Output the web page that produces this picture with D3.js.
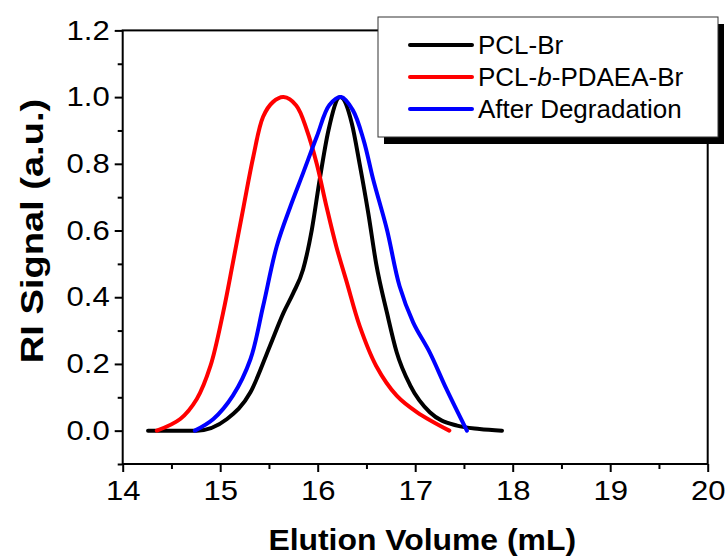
<!DOCTYPE html>
<html>
<head>
<meta charset="utf-8">
<script src="https://cdn.jsdelivr.net/npm/d3@7"></script>
<style>
  body { margin: 0; background: #fff; }
  svg { display: block; font-family: "Liberation Sans", Arial, sans-serif; }
</style>
</head>
<body>
<script>
// GPC traces (elution volume mL, normalised RI signal)
var pclX   = [14.26, 14.76, 15.07, 15.31, 15.51, 15.65, 15.75, 15.85, 15.94, 16.02, 16.11, 16.23, 16.35, 16.43, 16.52, 16.60, 16.71, 16.81, 16.95, 17.15, 17.43, 17.66, 17.89];
var pclY   = [0.0, 0.0, 0.035, 0.115, 0.254, 0.354, 0.413, 0.483, 0.603, 0.752, 0.90, 1.0, 0.921, 0.80, 0.65, 0.50, 0.354, 0.235, 0.135, 0.055, 0.015, 0.005, 0.0];

var blockX = [14.35, 14.59, 14.76, 14.90, 15.03, 15.13, 15.24, 15.34, 15.44, 15.54, 15.65, 15.78, 15.89, 15.99, 16.09, 16.19, 16.30, 16.43, 16.60, 16.81, 17.02, 17.35];
var blockY = [0.0, 0.035, 0.095, 0.194, 0.354, 0.503, 0.672, 0.822, 0.941, 0.985, 1.0, 0.975, 0.90, 0.80, 0.672, 0.553, 0.443, 0.314, 0.194, 0.105, 0.055, 0.0];

var degX   = [14.74, 14.93, 15.13, 15.31, 15.44, 15.58, 15.72, 15.85, 15.99, 16.12, 16.24, 16.36, 16.47, 16.57, 16.71, 16.84, 16.98, 17.15, 17.32, 17.53];
var degY   = [0.0, 0.035, 0.105, 0.214, 0.373, 0.553, 0.672, 0.772, 0.881, 0.976, 1.0, 0.961, 0.872, 0.752, 0.603, 0.433, 0.324, 0.234, 0.125, 0.0];

var seriesNames  = ["PCL-Br", "PCL-b-PDAEA-Br", "After Degradation"];
var seriesColors = ["#000000", "#ff0000", "#0000ff"];

var xTicks = [14, 15, 16, 17, 18, 19, 20];
var yTicks = [0.0, 0.2, 0.4, 0.6, 0.8, 1.0, 1.2];

var width = 727, height = 556;
// plot box (note: "top" is reserved on window, so use mTop etc.)
var mLeft = 122.7, mRight = 707.7, mTop = 30.4, mBottom = 464;

var svg = d3.select("body").append("svg")
    .attr("width", width)
    .attr("height", height);

var x = d3.scaleLinear().domain([14, 20]).range([mLeft, mRight]);
var y = d3.scaleLinear().domain([-0.1, 1.2]).range([mBottom, mTop]);

// minor ticks in between the majors
var xMinor = d3.range(14.5, 20, 1);
var yMinor = d3.range(-0.1, 1.2, 0.2).map(function (d) { return +d.toFixed(1); });

function minorAxis(g, axis) {
  g.call(axis);
  g.select(".domain").remove();
  g.selectAll("text").remove();
  g.selectAll("line").attr("stroke-width", 2);
}

svg.append("g")
    .attr("transform", "translate(0," + mBottom + ")")
    .call(minorAxis, d3.axisBottom(x).tickValues(xMinor).tickSizeInner(5).tickSizeOuter(0));

svg.append("g")
    .attr("transform", "translate(" + mLeft + ",0)")
    .call(minorAxis, d3.axisLeft(y).tickValues(yMinor).tickSizeInner(5).tickSizeOuter(0));

var xAxis = svg.append("g")
    .attr("transform", "translate(0," + mBottom + ")")
    .call(d3.axisBottom(x).tickValues(xTicks).tickSizeInner(8).tickSizeOuter(0).tickPadding(9).tickFormat(d3.format("d")));

var yAxis = svg.append("g")
    .attr("transform", "translate(" + mLeft + ",0)")
    .call(d3.axisLeft(y).tickValues(yTicks).tickSizeInner(8).tickSizeOuter(0).tickPadding(5).tickFormat(d3.format(".1f")));

[xAxis, yAxis].forEach(function (g) {
  g.select(".domain").remove();
  g.selectAll("line").attr("stroke-width", 2);
  g.selectAll("text")
    .attr("fill", "#000")
    .style("font-family", "Liberation Sans, Arial, sans-serif")
    .style("font-size", "27px");
});

// stretch labels a little horizontally, like the original export
xAxis.selectAll(".tick text").attr("transform", "scale(1.15,1)")
    .attr("x", 0);
yAxis.selectAll(".tick text").each(function () {
  var t = d3.select(this);
  t.attr("transform", "scale(1.15,1)").attr("x", -13 / 1.15);
});

// frame
svg.append("rect")
    .attr("x", mLeft).attr("y", mTop)
    .attr("width", mRight - mLeft).attr("height", mBottom - mTop)
    .attr("fill", "none").attr("stroke", "#000").attr("stroke-width", 2);

// curves - monotone for the black trace so its flat baseline doesn't dip
var smooth = d3.line()
    .x(function (d) { return x(d[0]); })
    .y(function (d) { return y(d[1]); })
    .curve(d3.curveCatmullRom.alpha(0.5));
var mono = d3.line()
    .x(function (d) { return x(d[0]); })
    .y(function (d) { return y(d[1]); })
    .curve(d3.curveMonotoneX);

var allSeries = [
  d3.zip(pclX, pclY),
  d3.zip(blockX, blockY),
  d3.zip(degX, degY)
];

svg.selectAll("path.trace")
  .data(allSeries)
  .enter().append("path")
    .attr("class", "trace")
    .attr("d", function (d, i) { return i === 0 ? mono(d) : smooth(d); })
    .attr("fill", "none")
    .attr("stroke", function (d, i) { return seriesColors[i]; })
    .attr("stroke-width", 4)
    .attr("stroke-linecap", "round")
    .attr("stroke-linejoin", "round");

// axis titles
svg.append("text")
    .attr("transform", "translate(" + ((mLeft + mRight) / 2 + 7) + ",550) scale(1.1,1)")
    .attr("text-anchor", "middle")
    .style("font-weight", "bold")
    .style("font-size", "29px")
    .text("Elution Volume (mL)");

svg.append("text")
    .attr("transform", "translate(43,231) rotate(-90) scale(1.19,1)")
    .attr("text-anchor", "middle")
    .style("font-weight", "bold")
    .style("font-size", "32px")
    .text("RI Signal (a.u.)");

// legend with drop shadow
var lg = svg.append("g").attr("transform", "translate(378,17)");
lg.append("rect")
    .attr("x", 6).attr("y", 7)
    .attr("width", 340).attr("height", 120)
    .attr("fill", "#000");
lg.append("rect")
    .attr("width", 340).attr("height", 120)
    .attr("fill", "#fff").attr("stroke", "#333").attr("stroke-width", 1);

var item = lg.selectAll("g.item")
  .data(seriesNames)
  .enter().append("g")
    .attr("class", "item")
    .attr("transform", function (d, i) { return "translate(0," + (28 + i * 32) + ")"; });

item.append("line")
    .attr("x1", 32).attr("x2", 94)
    .attr("stroke", function (d, i) { return seriesColors[i]; })
    .attr("stroke-width", 4)
    .attr("stroke-linecap", "round");

item.append("text")
    .attr("x", 100)
    .attr("y", 9)
    .style("font-size", "26px")
    .each(function (d) {
      var t = d3.select(this);
      if (d === "PCL-b-PDAEA-Br") {
        t.append("tspan").text("PCL-");
        t.append("tspan").style("font-style", "italic").text("b");
        t.append("tspan").text("-PDAEA-Br");
      } else {
        t.text(d);
      }
    });
</script>
</body>
</html>
